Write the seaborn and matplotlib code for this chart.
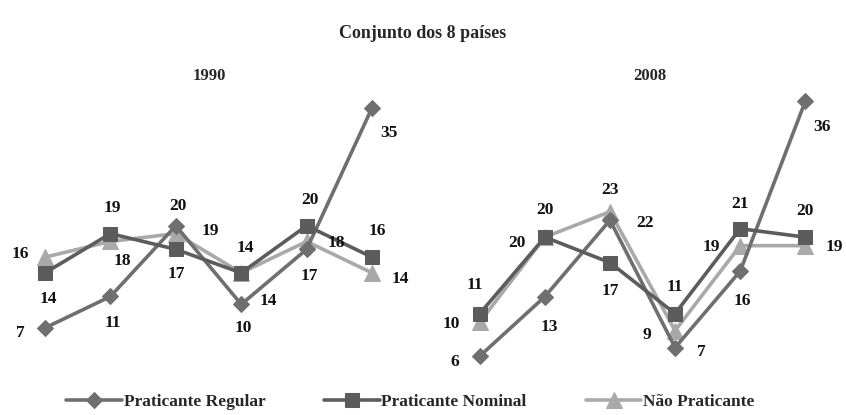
import seaborn as sns
import pandas as pd
import numpy as np
import matplotlib
matplotlib.use("Agg")
import matplotlib.pyplot as plt

# dados
pontos = [0, 1, 2, 3, 4, 5]
series = ["Praticante Regular", "Praticante Nominal", "Não Praticante"]
regular_1990 = [7, 11, 20, 10, 17, 35]
nominal_1990 = [14, 19, 17, 14, 20, 16]
nao_1990 = [16, 18, 19, 14, 18, 14]
regular_2008 = [6, 13, 22, 7, 16, 36]
nominal_2008 = [11, 20, 17, 11, 21, 20]
nao_2008 = [10, 20, 23, 9, 19, 19]

# deslocamento dos rotulos (pixels)
off_1990 = {
    "Praticante Regular": [(-25, -5), (2, -27), (2, 20), (2, -24), (3, -27), (17, -25)],
    "Praticante Nominal": [(3, -26), (2, 26), (0, -25), (4, 25), (3, 26), (5, 26)],
    "Não Praticante": [(-25, 3), (12, -20), (34, 3), (27, -28), (30, -2), (28, -6)],
}
off_2008 = {
    "Praticante Regular": [(-25, -6), (4, -30), (35, -3), (26, -4), (2, -30), (17, -26)],
    "Praticante Nominal": [(-5, 29), (0, 27), (0, -28), (0, 27), (0, 25), (0, 26)],
    "Não Praticante": [(-28, -2), (-28, -6), (0, 22), (-28, -4), (-29, -1), (29, -1)],
}

cores = {"Praticante Regular": "#6f6f6f", "Praticante Nominal": "#5c5c5c", "Não Praticante": "#a9a9a9"}
marcas = {"Praticante Regular": "D", "Praticante Nominal": "s", "Não Praticante": "^"}
tam = {"Praticante Regular": 8, "Praticante Nominal": 10, "Não Praticante": 11}

df1990 = pd.DataFrame({"x": pontos * 3, "v": regular_1990 + nominal_1990 + nao_1990,
                       "serie": np.repeat(series, 6)})
df2008 = pd.DataFrame({"x": pontos * 3, "v": regular_2008 + nominal_2008 + nao_2008,
                       "serie": np.repeat(series, 6)})

sns.set_style("white")
plt.rcParams["font.family"] = ["Liberation Serif", "DejaVu Serif"]
plt.rcParams["font.weight"] = "bold"

fig = plt.figure(figsize=(8.46, 4.15), dpi=100)
ax1 = fig.add_axes([0.030, 0.153, 0.433, 0.644])
ax2 = fig.add_axes([0.544, 0.101, 0.431, 0.696])

for ax, df, off, titulo in [(ax1, df1990, off_1990, "1990"), (ax2, df2008, off_2008, "2008")]:
    # ordem de desenho: claro por baixo
    for s in ["Não Praticante", "Praticante Regular", "Praticante Nominal"]:
        d = df[df["serie"] == s]
        sns.lineplot(data=d, x="x", y="v", ax=ax, color=cores[s], marker=marcas[s],
                     markersize=tam[s], markeredgecolor=cores[s], linewidth=2.6,
                     label=s, legend=False)
        for (xi, vi), (dx, dy) in zip(zip(d["x"], d["v"]), off[s]):
            ax.annotate(str(vi), (xi, vi), xytext=(dx, dy), textcoords="offset pixels",
                        ha="center", va="center", fontsize=12.5, fontweight="bold",
                        color="#111111")
    ax.set_xlim(-0.3, 5.3)
    ax.set_ylim(4, 38)
    ax.axis("off")

fig.text(0.248, 0.818, "1990", ha="center", va="center", fontsize=12, fontweight="bold")
fig.text(0.768, 0.818, "2008", ha="center", va="center", fontsize=12, fontweight="bold")
fig.text(0.5, 0.92, "Conjunto dos 8 países", ha="center", va="center", fontsize=13,
         fontweight="bold")

h, l = ax1.get_legend_handles_labels()
ordem = [l.index(s) for s in series]
fig.legend([h[i] for i in ordem], [l[i] for i in ordem], loc="lower center",
           bbox_to_anchor=(0.485, -0.025), ncol=3, frameon=False, fontsize=12.5,
           handlelength=3.2, handletextpad=0.1, columnspacing=3.4)

fig.savefig("out.png", dpi=100)
